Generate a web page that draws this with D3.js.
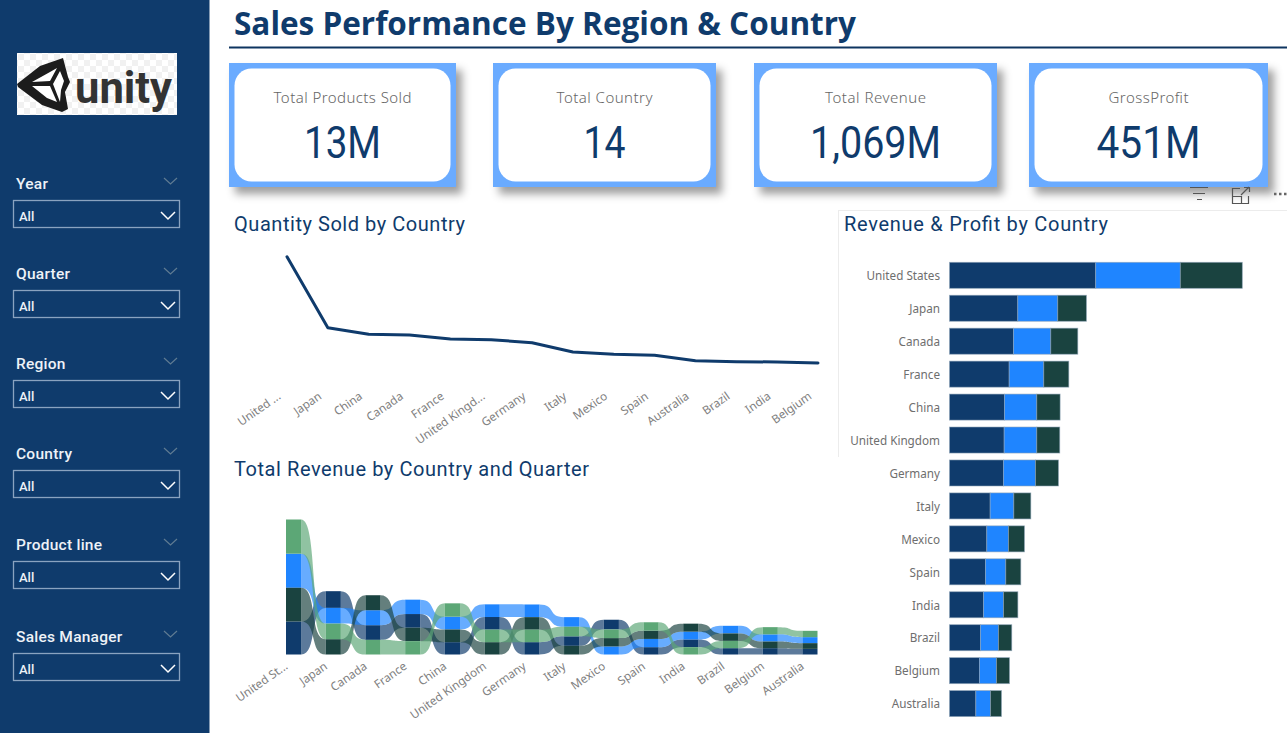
<!DOCTYPE html>
<html>
<head>
<meta charset="utf-8">
<title>Sales Performance By Region & Country</title>
<script src="https://cdnjs.cloudflare.com/ajax/libs/d3/7.8.5/d3.min.js"></script>
<style>
  html, body { margin: 0; padding: 0; background: #fff; overflow: hidden; }
  svg { display: block; }
  text { font-family: "Noto Sans", sans-serif; }
  .axis .domain, .axis line { display: none; }
  .axis text { font-family: "Noto Sans", sans-serif; font-size: 11.7px; fill: #808080; }
</style>
</head>
<body>
<svg id="chart" width="1287" height="733"></svg>
<script>

const slicerNames = ['Year', 'Quarter', 'Region', 'Country', 'Product line', 'Sales Manager'];

const kpiLabels = ['Total Products Sold', 'Total Country', 'Total Revenue', 'GrossProfit'];
const kpiValues = ['13M', '14', '1,069M', '451M'];

// quantity sold, thousands of units
const lineCountries = ['United States', 'Japan', 'China', 'Canada', 'France', 'United Kingdom', 'Germany', 'Italy', 'Mexico', 'Spain', 'Australia', 'Brazil', 'India', 'Belgium'];
const lineTickLabels = ['United ...', 'Japan', 'China', 'Canada', 'France', 'United Kingd...', 'Germany', 'Italy', 'Mexico', 'Spain', 'Australia', 'Brazil', 'India', 'Belgium'];
const quantitySold = [2990, 1268, 1108, 1091, 994, 977, 905, 679, 623, 599, 468, 444, 437, 412];

// revenue by quarter, $M. the ribbons re-rank inside every column
const ribbonCountries = ['United States', 'Japan', 'Canada', 'France', 'China', 'United Kingdom', 'Germany', 'Italy', 'Mexico', 'Spain', 'India', 'Brazil', 'Belgium', 'Australia'];
const ribbonTickLabels = ['United St...', 'Japan', 'Canada', 'France', 'China', 'United Kingdom', 'Germany', 'Italy', 'Mexico', 'Spain', 'India', 'Brazil', 'Belgium', 'Australia'];
const qtr1 = [52.2, 26.4, 23.2, 21.6, 19.5, 19.9, 19.5, 15.0, 15.3, 11.6, 12.2, 10.0, 10.0, 8.9];
const qtr2 = [53.8, 24.8, 23.6, 22.7, 20.2, 20.0, 20.0, 15.2, 12.7, 13.0, 12.3, 12.0, 11.3, 9.5];
const qtr3 = [53.2, 24.2, 23.7, 21.2, 20.0, 19.5, 19.8, 13.7, 13.2, 13.1, 12.6, 11.8, 10.5, 9.0];
const qtr4 = [54.0, 24.6, 23.1, 21.1, 21.1, 19.8, 19.7, 15.1, 13.7, 13.2, 11.6, 11.5, 11.4, 10.0];

// revenue, cost and profit by country, $M
const barCountries = ['United States', 'Japan', 'Canada', 'France', 'China', 'United Kingdom', 'Germany', 'Italy', 'Mexico', 'Spain', 'India', 'Brazil', 'Belgium', 'Australia'];
const barRevenue = [213.2, 99.6, 93.3, 87.0, 80.2, 79.7, 78.7, 59.3, 54.4, 52.5, 49.6, 45.2, 43.7, 38.4];
const barCost = [123.4, 58.3, 54.4, 50.5, 47.1, 47.6, 46.7, 34.5, 31.6, 29.6, 29.2, 26.2, 24.8, 21.4];
const barProfit = [90.4, 41.8, 39.4, 36.5, 34.0, 33.5, 33.5, 24.8, 23.3, 21.9, 20.9, 19.4, 19.0, 16.0];

// ---- colours ----

const navy = '#0f3b6c';
const blue = '#1f85ff';
const darkGreen = '#1a4340';
const green = '#5ca776';
const cardBlue = '#6aabff';
const grey = '#666';

const svg = d3.select('#chart');

// --------------------------------------------------
// sidebar and logo

svg.append('rect')
  .attr('width', 209.5)
  .attr('height', 733)
  .attr('fill', navy);

function drawLogo()
{
  let defs = svg.append('defs');

  let checker = defs.append('pattern')
    .attr('id', 'checker')
    .attr('width', 12)
    .attr('height', 12)
    .attr('patternUnits', 'userSpaceOnUse');
  checker.append('rect').attr('width', 12).attr('height', 12).attr('fill', '#fff');
  checker.append('rect').attr('width', 6).attr('height', 6).attr('fill', '#f1f1f1');
  checker.append('rect').attr('x', 6).attr('y', 6).attr('width', 6).attr('height', 6).attr('fill', '#f1f1f1');

  defs.append('filter')
    .attr('id', 'card-shadow')
    .attr('x', '-10%')
    .attr('y', '-10%')
    .attr('width', '125%')
    .attr('height', '130%')
    .append('feDropShadow')
    .attr('dx', 6)
    .attr('dy', 7)
    .attr('stdDeviation', 4)
    .attr('flood-color', '#000')
    .attr('flood-opacity', 0.38);

  let logo = svg.append('g');

  logo.append('rect')
    .attr('x', 17)
    .attr('y', 53)
    .attr('width', 160)
    .attr('height', 62)
    .attr('fill', 'url(#checker)');

  logo.append('path')
    .attr('d', 'M17,84 L40,66 L63,58 L68,77 L70,82 L65,92 L68,109 L62,112 L42,105 L18,87 Z')
    .attr('fill', '#1c1c1c');

  logo.append('path')
    .attr('d', 'M32,82 L50,72 L57,68 L50,81 Z M53,84 L60,71 L64,81 L61,90 L60,102 Z M32,86 L50,86 L57,102 L47,98 Z')
    .attr('fill', '#fff');

  logo.append('text')
    .attr('x', 75)
    .attr('y', 103)
    .attr('textLength', 97)
    .attr('lengthAdjust', 'spacingAndGlyphs')
    .style('font-family', 'Roboto, sans-serif')
    .style('font-weight', 700)
    .style('font-size', '44px')
    .attr('fill', '#333')
    .text('unity');
}

drawLogo();

function chevron(g, x, y, w, h, colour, width)
{
  g.append('path')
    .attr('d', `M${x},${y} L${x + w / 2},${y + h} L${x + w},${y}`)
    .attr('fill', 'none')
    .attr('stroke', colour)
    .attr('stroke-width', width);
}

const slicerTops = [183, 273, 363, 453, 544, 636];

slicerNames.forEach(function (name, i)
{
  let g = svg.append('g').attr('transform', `translate(0,${slicerTops[i]})`);

  g.append('text')
    .attr('x', 16)
    .attr('y', 6)
    .attr('fill', '#eef2f7')
    .style('font-family', 'Roboto, sans-serif')
    .style('font-weight', 500)
    .style('font-size', '15.5px')
    .style('letter-spacing', '0.25px')
    .text(name);

  chevron(g, 164, -5, 13, 6, '#5f7b92', 1.2);

  g.append('rect')
    .attr('x', 13.5)
    .attr('y', 17.5)
    .attr('width', 166)
    .attr('height', 27)
    .attr('fill', 'none')
    .attr('stroke', '#8aa3c0')
    .attr('stroke-width', 1.3);

  g.append('text')
    .attr('x', 19)
    .attr('y', 38)
    .attr('fill', '#eef2f7')
    .style('font-family', 'Roboto, sans-serif')
    .style('font-weight', 500)
    .style('font-size', '13px')
    .text('All');

  chevron(g, 161, 29, 14, 7, '#fff', 1.5);
});

// --------------------------------------------------
// page title

svg.append('text')
  .attr('x', 234)
  .attr('y', 35)
  .attr('fill', navy)
  .attr('textLength', 622)
  .attr('lengthAdjust', 'spacingAndGlyphs')
  .style('font-family', '"Open Sans", sans-serif')
  .style('font-weight', 700)
  .style('font-size', '32px')
  .text('Sales Performance By Region & Country');

svg.append('line')
  .attr('x1', 229)
  .attr('x2', 1287)
  .attr('y1', 47.5)
  .attr('y2', 47.5)
  .attr('stroke', '#0e3560')
  .attr('stroke-width', 2);

// --------------------------------------------------
// kpi cards

const cardLefts = [229, 493, 754, 1029];
const cardWidths = [227, 223, 243, 239];
const kpiValueWidths = [77, 42, 131, 104];
const kpiLabelWidths = [138, 96, 101, 80];

kpiLabels.forEach(function (label, i)
{
  let g = svg.append('g').attr('transform', `translate(${cardLefts[i]},63)`);
  let w = cardWidths[i];

  g.append('rect')
    .attr('width', w)
    .attr('height', 124)
    .attr('fill', cardBlue)
    .attr('filter', 'url(#card-shadow)');

  g.append('rect')
    .attr('x', 5.5)
    .attr('y', 5.5)
    .attr('width', w - 11)
    .attr('height', 113)
    .attr('rx', 17)
    .attr('fill', '#fff');

  g.append('text')
    .attr('x', w / 2)
    .attr('y', 40)
    .attr('text-anchor', 'middle')
    .attr('fill', grey)
    .attr('textLength', kpiLabelWidths[i])
    .style('font-size', '15px')
    .style('font-weight', 300)
    .text(label);

  g.append('text')
    .attr('x', w / 2)
    .attr('y', 95)
    .attr('text-anchor', 'middle')
    .attr('fill', navy)
    .attr('textLength', kpiValueWidths[i])
    .attr('lengthAdjust', 'spacingAndGlyphs')
    .style('font-family', 'Roboto, sans-serif')
    .style('font-size', '44px')
    .text(kpiValues[i]);
});

// --------------------------------------------------
// visual header icons and panel dividers

let icons = svg.append('g')
  .attr('fill', 'none')
  .attr('stroke', '#555')
  .attr('stroke-width', 1.2);
icons.append('path').attr('d', 'M1190,187.5 H1208 M1193,193.5 H1205 M1197,199.5 H1202');
icons.append('path').attr('d', 'M1240,188.5 H1232.5 V203.5 H1248.5 V196 M1232.5,196.5 H1241.5 V203.5 M1241,195 L1249,187 M1244,187.5 H1249.5 V192');
icons.append('path')
  .attr('d', 'M1274,194 H1276.5 M1279,194 H1281.5 M1284,194 H1286.5')
  .attr('stroke', '#666')
  .attr('stroke-width', 2.5);

svg.append('path')
  .attr('d', 'M838.5,210 V457 M838.5,210.5 H1287')
  .attr('fill', 'none')
  .attr('stroke', '#ececec');

function chartTitle(x, y, width, text)
{
  svg.append('text')
    .attr('x', x)
    .attr('y', y)
    .attr('fill', navy)
    .attr('textLength', width)
    .style('font-family', 'Roboto, sans-serif')
    .style('font-size', '20px')
    .text(text);
}

chartTitle(234, 231, 231, 'Quantity Sold by Country');
chartTitle(234, 476, 355, 'Total Revenue by Country and Quarter');
chartTitle(844, 231, 264, 'Revenue & Profit by Country');

// --------------------------------------------------
// rotated category axis shared by the line and ribbon charts

function slantedAxis(scale, tickLabels, domainValues, y, dx)
{
  let g = svg.append('g')
    .attr('class', 'axis')
    .attr('transform', `translate(0,${y})`)
    .call(d3.axisBottom(scale)
      .tickSize(0)
      .tickFormat(d => tickLabels[domainValues.indexOf(d)]));

  g.selectAll('text')
    .attr('text-anchor', 'end')
    .attr('dy', 0)
    .attr('y', 0)
    .attr('transform', `translate(${dx},4) rotate(-35)`);
}

// --------------------------------------------------
// line chart

const lineX = d3.scalePoint()
  .domain(lineCountries)
  .range([287, 818]);

const lineY = d3.scaleLinear()
  .domain([0, d3.max(quantitySold)])
  .range([380, 256.7]);

const line = d3.line()
  .x((d, i) => lineX(lineCountries[i]))
  .y(d => lineY(d));

svg.append('path')
  .datum(quantitySold)
  .attr('d', line)
  .attr('fill', 'none')
  .attr('stroke', navy)
  .attr('stroke-width', 3)
  .attr('stroke-linejoin', 'round')
  .attr('stroke-linecap', 'round');

slantedAxis(lineX, lineTickLabels, lineCountries, 394, -6);

// --------------------------------------------------
// ribbon chart

const ribbonSeries = [
  { values: qtr1, colour: navy },
  { values: qtr2, colour: blue },
  { values: qtr3, colour: darkGreen },
  { values: qtr4, colour: green }
];

const ribbonX = d3.scaleBand()
  .domain(ribbonCountries)
  .range([286, 817.5])
  .paddingInner(0.62);

const ribbonY = d3.scaleLinear()
  .domain([0, d3.sum(ribbonSeries, s => s.values[0])])
  .range([654.5, 519.5]);

// smallest value of a column sits on the axis, largest on top
const ribbonStacks = ribbonCountries.map(function (country, c)
{
  let order = d3.range(ribbonSeries.length)
    .sort((a, b) => ribbonSeries[a].values[c] - ribbonSeries[b].values[c]);
  let base = 0;
  let spans = [];
  order.forEach(function (s)
  {
    spans[s] = [base, base + ribbonSeries[s].values[c]];
    base += ribbonSeries[s].values[c];
  });
  return spans;
});

// the s-bend is tighter than curveBumpX, the edges stay flat for longer
const ribbonBend = 0.68;

function ribbonPath(a, b, s)
{
  let x0 = ribbonX(ribbonCountries[a]) + ribbonX.bandwidth();
  let x1 = ribbonX(ribbonCountries[b]);
  let k = (x1 - x0) * ribbonBend;
  let p = d3.path();
  p.moveTo(x0, ribbonY(ribbonStacks[a][s][1]));
  p.bezierCurveTo(x0 + k, ribbonY(ribbonStacks[a][s][1]), x1 - k, ribbonY(ribbonStacks[b][s][1]), x1, ribbonY(ribbonStacks[b][s][1]));
  p.lineTo(x1, ribbonY(ribbonStacks[b][s][0]));
  p.bezierCurveTo(x1 - k, ribbonY(ribbonStacks[b][s][0]), x0 + k, ribbonY(ribbonStacks[a][s][0]), x0, ribbonY(ribbonStacks[a][s][0]));
  p.closePath();
  return p.toString();
}

ribbonSeries.forEach(function (series, s)
{
  svg.append('g')
    .selectAll('path')
    .data(d3.pairs(d3.range(ribbonCountries.length)))
    .join('path')
    .attr('d', ([a, b]) => ribbonPath(a, b, s))
    .attr('fill', series.colour)
    .attr('fill-opacity', 0.68);
});

ribbonSeries.forEach(function (series, s)
{
  svg.append('g')
    .selectAll('rect')
    .data(ribbonCountries)
    .join('rect')
    .attr('x', d => ribbonX(d))
    .attr('width', ribbonX.bandwidth())
    .attr('y', (d, c) => ribbonY(ribbonStacks[c][s][1]))
    .attr('height', (d, c) => ribbonY(ribbonStacks[c][s][0]) - ribbonY(ribbonStacks[c][s][1]))
    .attr('fill', series.colour);
});

slantedAxis(ribbonX, ribbonTickLabels, ribbonCountries, 664, -5);

// --------------------------------------------------
// stacked bars

const barSeries = [
  { values: barRevenue, colour: navy },
  { values: barCost, colour: blue },
  { values: barProfit, colour: darkGreen }
];

const barY = d3.scaleBand()
  .domain(barCountries)
  .range([262.3, 716.6])
  .paddingInner(0.21);

const barX = d3.scaleLinear()
  .domain([0, d3.max(barCountries, (d, i) => barRevenue[i] + barCost[i] + barProfit[i])])
  .range([949.5, 1242.3]);

const barStack = d3.stack()
  .keys(d3.range(barSeries.length))
  .value((c, s) => barSeries[s].values[c])(d3.range(barCountries.length));

svg.append('g')
  .selectAll('g')
  .data(barStack)
  .join('g')
  .attr('fill', (d, s) => barSeries[s].colour)
  .selectAll('rect')
  .data(d => d)
  .join('rect')
  .attr('x', d => barX(d[0]))
  .attr('y', d => barY(barCountries[d.data]))
  .attr('width', d => barX(d[1]) - barX(d[0]))
  .attr('height', barY.bandwidth())
  .attr('stroke', '#8ea4b8')
  .attr('stroke-opacity', 0.7)
  .attr('stroke-width', 0.8);

let barAxis = svg.append('g')
  .attr('class', 'axis')
  .attr('transform', 'translate(949,1)')
  .call(d3.axisLeft(barY).tickSize(0).tickPadding(9));
barAxis.selectAll('text').style('fill', '#6e6e6e');
</script>
</body>
</html>
